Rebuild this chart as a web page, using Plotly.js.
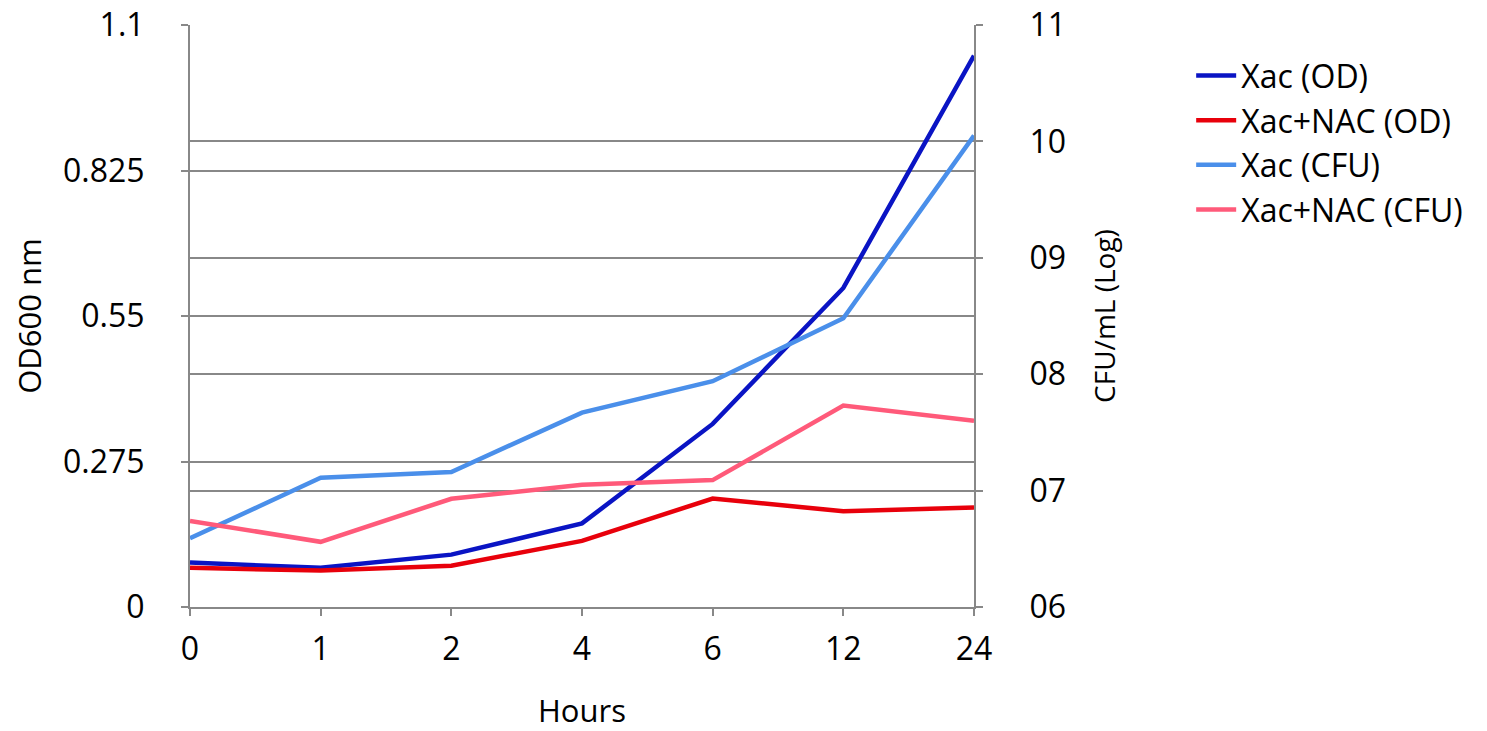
<!DOCTYPE html>
<html>
<head>
<meta charset="utf-8">
<script src="https://cdn.plot.ly/plotly-3.0.1.min.js"></script>
<style>
  html, body { margin: 0; padding: 0; background: #fff; }
  #myChart { width: 1487px; height: 731px; }
</style>
</head>
<body>
<div id="myChart"></div>
<script>
var hours = ['0', '1', '2', '4', '6', '12', '24'];

// OD600 (left axis)
var xac_od = [0.084, 0.074, 0.099, 0.158, 0.346, 0.603, 1.042];
var xacnac_od = [0.074, 0.069, 0.078, 0.125, 0.205, 0.181, 0.188];

// CFU/mL log (right axis)
var xac_cfu = [6.59, 7.11, 7.16, 7.67, 7.94, 8.48, 10.05];
var xacnac_cfu = [6.74, 6.56, 6.93, 7.05, 7.09, 7.73, 7.60];

var right_vals = [6, 7, 8, 9, 10, 11];
var right_text = ['06', '07', '08', '09', '10', '11'];
var left_vals = [0, 0.275, 0.55, 0.825, 1.1];
var left_text = ['0', '0.275', '0.55', '0.825', '1.1'];

var font_ = '"Open Sans", Lato, sans-serif';

var trace1 = {
  x: hours, y: xac_od, type: 'scatter', mode: 'lines',
  name: 'Xac (OD)', line: {color: '#0a14c4', width: 4.5}
};
var trace2 = {
  x: hours, y: xacnac_od, type: 'scatter', mode: 'lines',
  name: 'Xac+NAC (OD)', line: {color: '#e8000b', width: 4.5}
};
var trace3 = {
  x: hours, y: xac_cfu, type: 'scatter', mode: 'lines', yaxis: 'y2',
  name: 'Xac (CFU)', line: {color: '#4a8fea', width: 4.5}
};
var trace4 = {
  x: hours, y: xacnac_cfu, type: 'scatter', mode: 'lines', yaxis: 'y2',
  name: 'Xac+NAC (CFU)', line: {color: '#ff5a7a', width: 4.5}
};

var layout = {
  width: 1487, height: 731,
  margin: {l: 190, r: 513, t: 25, b: 124},
  paper_bgcolor: '#fff', plot_bgcolor: '#fff',
  font: {family: font_, color: '#000', size: 30},
  showlegend: true,
  legend: {
    x: 1.277, y: 0.96, xanchor: 'left', yanchor: 'top',
    font: {size: 32}, tracegroupgap: 0, itemwidth: 40
  },
  xaxis: {
    type: 'category', range: [0, 6],
    showline: true, linecolor: '#888', linewidth: 2,
    ticks: 'outside', ticklen: 7, tickcolor: '#888', tickwidth: 2,
    ticklabelstandoff: 6,
    showgrid: false, zeroline: false,
    tickfont: {size: 32},
    title: {text: 'Hours', font: {size: 31}, standoff: 34}
  },
  yaxis: {
    range: [0, 1.1], tickvals: left_vals, ticktext: left_text,
    showline: true, linecolor: '#888', linewidth: 2,
    ticks: 'outside', ticklen: 7, tickcolor: '#888', tickwidth: 2,
    ticklabelstandoff: 30, ticklabeloverflow: 'allow',
    showgrid: true, gridcolor: '#888', gridwidth: 2, zeroline: false,
    tickfont: {size: 32},
    title: {text: 'OD600 nm', font: {size: 31}, standoff: 12}
  },
  yaxis2: {
    overlaying: 'y', side: 'right',
    range: [6, 11], tickvals: right_vals, ticktext: right_text,
    showline: true, linecolor: '#888', linewidth: 2,
    ticks: 'outside', ticklen: 7, tickcolor: '#888', tickwidth: 2,
    ticklabelstandoff: 40, ticklabeloverflow: 'allow',
    showgrid: true, gridcolor: '#888', gridwidth: 2, zeroline: false,
    tickfont: {size: 32},
    title: {text: 'CFU/mL (Log)', font: {size: 28}, standoff: 30}
  }
};

var data = [trace1, trace2, trace3, trace4];
Plotly.newPlot('myChart', data, layout, {displayModeBar: false});
</script>
</body>
</html>
